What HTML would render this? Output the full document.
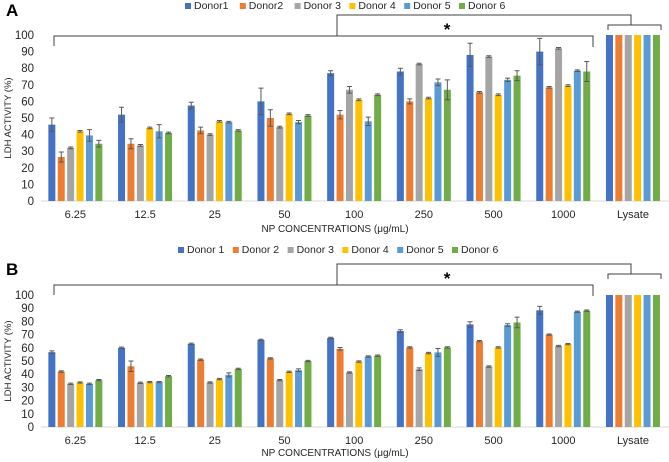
<!DOCTYPE html>
<html><head><meta charset="utf-8"><style>
body{margin:0;background:#fff;}
svg{display:block;font-family:"Liberation Sans",sans-serif;}
</style></head><body>
<svg id="chart" width="669" height="462" viewBox="0 0 669 462"></svg>
<script>
const categories = ["6.25","12.5","25","50","100","250","500","1000","Lysate"];
const seriesColors = ["#4472C4","#ED7D31","#A5A5A5","#FFC000","#5B9BD5","#70AD47"];
const legendA = ["Donor1","Donor2","Donor 3","Donor 4","Donor 5","Donor 6"];
const legendB = ["Donor 1","Donor 2","Donor 3","Donor 4","Donor 5","Donor 6"];
const yTicks = [0,10,20,30,40,50,60,70,80,90,100];
// Panel A values per donor across categories
const a1 = [46,52,57.5,60,77,78,88,90,100];
const a2 = [26.5,34.5,42.5,50,52,60,65.5,68.5,100];
const a3 = [32,33.5,40,44.5,67,82.5,87,92,100];
const a4 = [42,44,48,52.5,61,62,64,69.5,100];
const a5 = [39.5,42,47.5,47.5,48,71.5,73,78.5,100];
const a6 = [34.5,41,42.5,51.5,64,67,75.5,78,100];
const ae1 = [4,4.5,2,8,1.5,2,7,8,0];
const ae2 = [3,3,2,5,2.5,1.5,0.5,0.5,0];
const ae3 = [0.5,0.5,0.5,0.5,2,0.5,0.5,0.5,0];
const ae4 = [0.5,0.5,0.5,0.5,0.5,0.5,0.5,0.5,0];
const ae5 = [3.5,4,0.5,1,2.5,2,1,0.5,0];
const ae6 = [2,0.5,0.5,0.5,0.5,6,3,6,0];
// Panel B
const b1 = [56.7,60,63,66,67.5,72.7,77.7,88.4,100];
const b2 = [42,46,51,52,59.2,60.3,65,70,100];
const b3 = [32.7,33.5,33.7,35.5,41.3,43.8,45.8,61.3,100];
const b4 = [33.7,34,36.3,41.8,49.6,56,60.3,62.8,100];
const b5 = [32.7,34,39.5,43,53.4,56.5,77.2,87.3,100];
const b6 = [35.5,38.5,44,50,54,60.3,79.2,88.1,100];
const be1 = [1,0.5,0.5,0.5,0.5,1,2,3,0];
const be2 = [0.5,4,0.5,0.5,1,0.5,0.5,0.5,0];
const be3 = [0.5,0.5,0.5,0.5,0.5,1,0.5,0.5,0];
const be4 = [0.5,0.5,0.5,0.5,0.5,0.5,0.5,0.5,0];
const be5 = [0.5,0.5,1.5,1,0.5,3,1,0.5,0];
const be6 = [0.5,0.5,0.5,0.5,0.5,0.5,4,0.5,0];

const svg = document.getElementById('chart');
const NS = "http://www.w3.org/2000/svg";
function mk(tag, attrs, parent){
  const e = document.createElementNS(NS, tag);
  for (const k in attrs) e.setAttribute(k, attrs[k]);
  (parent||svg).appendChild(e);
  return e;
}
function txt(x,y,s,size,anchor,extra){
  const t = mk('text',Object.assign({x:x,y:y,'font-size':size,'text-anchor':anchor||'middle',fill:'#262626'},extra||{}));
  t.textContent = s; return t;
}

function panel(cfg){
  const g = mk('g',{});
  
  
  const x0 = 41, band = 69.7;
  const yS = v => cfg.y0 - v*cfg.k;
  const xC = i => x0 + band*(i+0.5) - 0.5;
  const L = txt(6,cfg.letterY,cfg.letter,17,'start',{'font-weight':'bold',fill:'#000'});
   
  yTicks.forEach(v=>{
    const t = txt(34,yS(v)+4,String(v),11.5,'end');
     
  });
  const yt = txt(0,0,'LDH ACTIVITY (%)',9.5,'middle',{transform:`translate(11,${(cfg.y0+yS(100))/2}) rotate(-90)`});
   
  const ax = mk('line',{x1:x0,x2:669,y1:cfg.y0,y2:cfg.y0,stroke:'#d9d9d9','stroke-width':1},g);
   
  const bw = 7, step = 9.4;
  categories.forEach((c,i)=>{
    const cx = xC(i);
    cfg.series.forEach((vals,s)=>{
      const bx = cx + (s-2.5)*step - bw/2;
      const r = mk('rect',{x:bx,y:yS(vals[i]),width:bw,height:vals[i]*cfg.k,fill:seriesColors[s]},g);
      
      
      const e = cfg.errs[s][i];
      if (e>0){
        const ex = bx+bw/2;
        const p = mk('path',{d:`M${ex},${yS(vals[i]+e)}V${yS(vals[i]-e)}M${ex-2.5},${yS(vals[i]+e)}h5M${ex-2.5},${yS(vals[i]-e)}h5`,stroke:'#595959','stroke-width':1,fill:'none'},g);
         
      }
    });
    const t = txt(cx,cfg.catY,c,11);
     
  });
  const xt = txt(335,cfg.titleY,'NP CONCENTRATIONS (μg/mL)',10);
   
  cfg.legend.forEach((n,s)=>{
    const lx = cfg.legX + s*54.8;
    const sw = mk('rect',{x:lx,y:cfg.legY-4,width:6,height:6,fill:seriesColors[s]});
     
    const t = txt(lx+9,cfg.legY+2,n,10.5,'start');
     
  });
  const b = cfg.br;
  const p1 = mk('path',{d:`M54,${b.main+10}V${b.main}H593V${b.main+11}M337,${b.main}V${b.top}H631V${b.lys}M608,${b.lys+5}V${b.lys}H661V${b.lys+5}`,stroke:'#404040','stroke-width':1,fill:'none'});
   
  const st = txt(447,b.lys+10,'*',17,'middle',{'font-weight':'bold',fill:'#000'});
   
}

panel({name:'panel-a',letter:'A',letterY:16,y0:201,k:1.66,catY:218,titleY:232,legX:185,legY:7,
  legend:legendA,series:[a1,a2,a3,a4,a5,a6],errs:[ae1,ae2,ae3,ae4,ae5,ae6],
  br:{main:36,top:15,lys:25}});
panel({name:'panel-b',letter:'B',letterY:275,y0:427,k:1.32,catY:444,titleY:456,legX:178,legY:251,
  legend:legendB,series:[b1,b2,b3,b4,b5,b6],errs:[be1,be2,be3,be4,be5,be6],
  br:{main:285,top:264,lys:274}});
</script>
</body></html>
